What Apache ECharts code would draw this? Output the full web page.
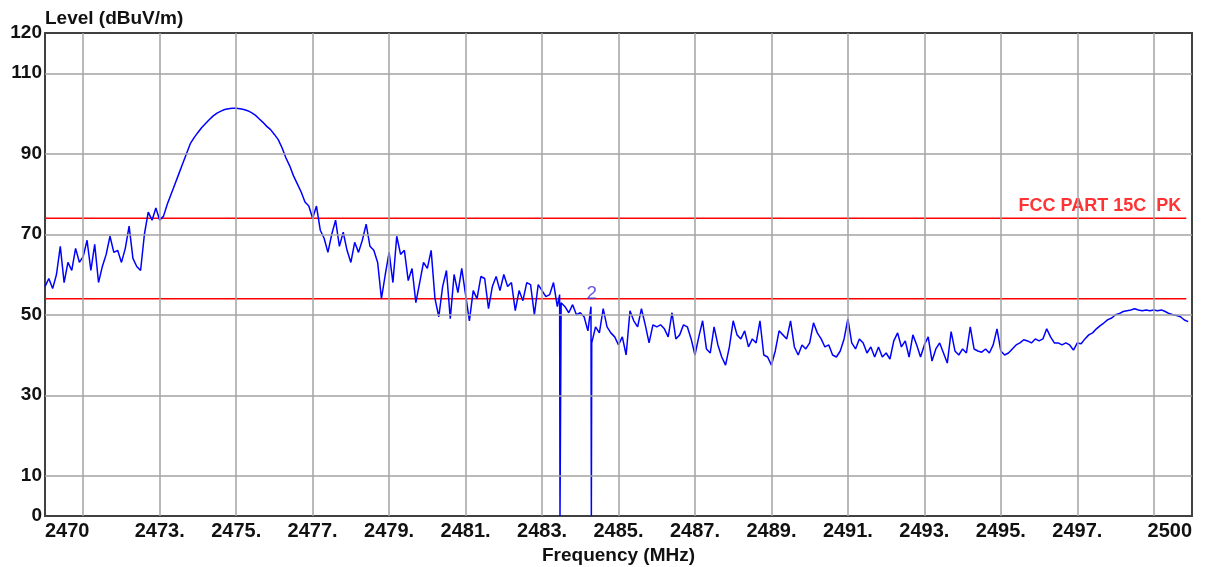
<!DOCTYPE html>
<html>
<head>
<meta charset="utf-8">
<script src="https://cdn.jsdelivr.net/npm/echarts@6/dist/echarts.min.js"></script>
<style>
html, body { margin: 0; padding: 0; background: #fff; }
#chart { width: 1211px; height: 567px; }
</style>
</head>
<body>
<div id="chart"></div>
<script>
// sweep: 2470.0 .. 2499.9 MHz, 0.1 MHz per point
var freqStart = 2470, freqStep = 0.1;
var levels = [
  57, 59, 56.5, 60, 67, 58, 63, 61, 66.5, 63,
  64.5, 68.5, 61, 67.5, 58, 62, 65, 69.5, 65.5, 66,
  63, 66.5, 72, 64, 62, 61, 70, 75.5, 73.5, 76.5,
  73.5, 74.5, 77.5, 80, 82.5, 85, 87.5, 90, 92.5, 94,
  95.3, 96.5, 97.5, 98.5, 99.4, 100.1, 100.6, 101, 101.2, 101.3,
  101.3, 101.2, 101, 100.7, 100.2, 99.6, 98.7, 97.8, 96.8, 96,
  94.8, 93.5, 91.5, 89, 87, 84.5, 82.5, 80.5, 78, 77,
  74, 77, 71, 69, 65.5, 70, 73.5, 67, 70.5, 66,
  63, 68, 65.5, 68.5, 72.5, 67, 66, 63, 54, 60,
  65.5, 58, 69.5, 65, 66, 58.5, 61.5, 53, 58, 63,
  61.5, 66, 54, 49.5, 57, 61, 49, 60, 55.5, 61.5,
  55, 48.5, 56, 54, 59.5, 59, 51.5, 57, 59.5, 56,
  60, 57, 58, 51, 56, 53.5, 58, 57.5, 50, 57.5,
  56, 54.5, 55, 58, 52, 53, 52, 50.5, 52.5, 50,
  50.5, 49.5, 46, 43, 47, 45.5, 51.5, 47, 45.5, 44.5,
  42.5, 44.5, 40, 51, 48.5, 47, 51.5, 47.5, 43, 47.5,
  47, 47.5, 46.5, 44.5, 50.5, 44, 45, 47.5, 47, 44,
  40, 44.5, 48.5, 41.5, 40.5, 47, 42.5, 39.5, 37.5, 42,
  48.5, 45, 44, 46, 42, 44, 43, 48.5, 40, 39.5,
  37.5, 41, 46, 45, 44, 48.5, 42, 40, 42.5, 41.5,
  43, 48, 45.5, 44, 42, 42.5, 40, 39.5, 41, 44,
  49, 43, 41.5, 44, 43, 40.5, 42, 39.5, 42, 39.5,
  40.5, 39, 43.5, 45.5, 42, 43.5, 39.5, 45, 42.5, 39.5,
  42.5, 44.5, 38.5, 41.5, 43, 40.5, 38, 45.8, 41, 40,
  41.5, 40.5, 47, 41.5, 41, 40.7, 41.5, 40.5, 42.5, 46.5,
  41, 40, 40.5, 41.5, 42.5, 43, 43.8, 43.5, 43, 44,
  43.5, 44, 46.5, 44.5, 43, 43, 42.5, 43, 42.5, 41.2,
  43, 42.8, 44, 45, 45.5, 46.5, 47.3, 48, 48.8, 49.2,
  50, 50.3, 50.8, 51, 51.2, 51.5, 51.2, 51, 51.2, 51,
  51.2, 51, 51.2, 50.8, 50.3, 50, 49.8, 49.5, 48.7, 48.3
];
// narrow dropouts in the trace [freq, level]
var dropouts = [[2483.46, 55], [2483.47, 0], [2484.28, 52], [2484.29, 0]];

var limitLevels = [74, 54];
var limitSpan = [2470, 2499.85];
var limitName = 'FCC PART 15C  PK';

var markers = [{ name: '2', freq: 2484.3, level: 52.2 }];

var gridFreqs = [2471, 2473, 2475, 2477, 2479, 2481, 2483, 2485, 2487, 2489, 2491, 2493, 2495, 2497, 2499];
var gridLevels = [10, 30, 50, 70, 90, 110];
var freqLabels = [2473, 2475, 2477, 2479, 2481, 2483, 2485, 2487, 2489, 2491, 2493, 2495, 2497];
var levelLabels = [0, 10, 30, 50, 70, 90, 110, 120];

var trace = levels.map(function (v, i) {
  return [+(freqStart + i * freqStep).toFixed(2), v];
}).concat(dropouts).sort(function (a, b) { return a[0] - b[0]; });

var FONT = 'Liberation Sans, Arial, sans-serif';

var gridLines = gridFreqs.map(function (f) { return { xAxis: f }; })
  .concat(gridLevels.map(function (l) { return { yAxis: l }; }));

var limitSeries = limitLevels.map(function (l) {
  return {
    type: 'line', data: [[limitSpan[0], l], [limitSpan[1], l]],
    showSymbol: false, symbol: 'none', z: 2, silent: true,
    lineStyle: { color: '#ff0000', width: 1.5 }
  };
});

var option = {
  animation: false,
  backgroundColor: '#fff',
  grid: {
    left: 45, right: 19, top: 33, bottom: 51, show: true,
    borderColor: '#404040', borderWidth: 2,
    containLabel: false, outerBoundsMode: 'none'
  },
  xAxis: {
    type: 'value', min: 2470, max: 2500, interval: 1,
    name: 'Frequency (MHz)', nameLocation: 'middle', nameGap: 28,
    nameTextStyle: { color: '#111', fontFamily: FONT, fontWeight: 'bold', fontSize: 19 },
    axisLine: { show: false }, axisTick: { show: false }, splitLine: { show: false },
    axisLabel: {
      color: '#111', fontFamily: FONT, fontWeight: 'bold', fontSize: 20, margin: 5,
      alignMinLabel: 'left', alignMaxLabel: 'right',
      formatter: function (v) {
        if (v === 2470 || v === 2500) return String(v);
        return freqLabels.indexOf(v) >= 0 ? v + '.' : '';
      }
    }
  },
  yAxis: {
    type: 'value', min: 0, max: 120, interval: 10,
    name: 'Level (dBuV/m)', nameLocation: 'end', nameGap: 14, nameMoveOverlap: false,
    nameTextStyle: { color: '#111', align: 'left', verticalAlign: 'middle', fontFamily: FONT, fontWeight: 'bold', fontSize: 19 },
    axisLine: { show: false }, axisTick: { show: false }, splitLine: { show: false },
    axisLabel: {
      color: '#111', fontFamily: FONT, fontWeight: 'bold', fontSize: 19, margin: 3,
      formatter: function (v) { return levelLabels.indexOf(v) >= 0 ? String(v) : ''; }
    }
  },
  series: [
    {
      type: 'line', data: [], z: 1, silent: true,
      markLine: {
        silent: true, symbol: 'none', animation: false,
        label: { show: false },
        lineStyle: { color: '#a3a3a3', width: 1.5, type: 'solid' },
        emphasis: { disabled: true },
        data: gridLines
      }
    }
  ].concat(limitSeries).concat([
    {
      type: 'line', data: trace, showSymbol: false, symbol: 'none', z: 3,
      lineStyle: { color: '#0000ff', width: 1.5 }
    },
    {
      // marker number
      type: 'scatter', z: 4, symbolSize: 1, silent: true, itemStyle: { color: 'rgba(0,0,0,0)' },
      data: markers.map(function (m) { return { name: m.name, value: [m.freq, m.level] }; }),
      label: {
        show: true, position: 'top', distance: 2, formatter: '{b}',
        color: '#3f2fe0', fontFamily: FONT, fontSize: 19
      }
    },
    {
      // limit line name
      type: 'scatter', z: 4, symbolSize: 1, silent: true, itemStyle: { color: 'rgba(0,0,0,0)' },
      data: [{ name: limitName, value: [limitSpan[1], limitLevels[0]] }],
      label: {
        show: true, position: 'top', align: 'right', distance: 3, offset: [-5, 0],
        formatter: '{b}', color: '#ff0000', fontFamily: FONT, fontWeight: 'bold', fontSize: 18
      }
    }
  ])
};

var myChart = echarts.init(document.getElementById('chart'));
myChart.setOption(option, true);
</script>
</body>
</html>
